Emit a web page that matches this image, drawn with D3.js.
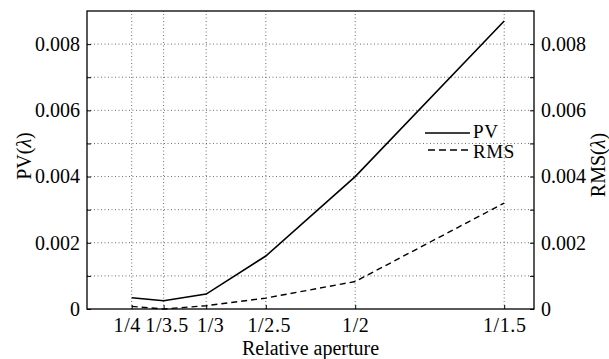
<!DOCTYPE html>
<html lang="en">
<head>
<meta charset="utf-8">
<title>PV / RMS vs relative aperture</title>
<script src="https://cdnjs.cloudflare.com/ajax/libs/d3/7.8.5/d3.min.js"></script>
<style>
  body { margin: 0; background: #fff; }
  svg text { font-family: "Liberation Serif", "Times New Roman", "DejaVu Serif", serif !important; fill: #000; }
  .grid line { stroke: #444; stroke-width: 0.8; stroke-dasharray: 1,2.5; }
</style>
</head>
<body>
<svg id="chart" width="609" height="359"></svg>
<script type="text/javascript">
// data
var apertureVals = [1/4, 1/3.5, 1/3, 1/2.5, 1/2, 1/1.5];
var apertureLabels = ["1/4", "1/3.5", "1/3", "1/2.5", "1/2", "1/1.5"];
var pvVals  = [0.00034, 0.00025, 0.00045, 0.0016, 0.0040, 0.0087];
var rmsVals = [0.00008, 0.00000, 0.00010, 0.00033, 0.00083, 0.0032];
var yTicks = [0, 0.001, 0.002, 0.003, 0.004, 0.005, 0.006, 0.007, 0.008];
var yLabelTicks = [0, 0.002, 0.004, 0.006, 0.008];

var margin = {left: 87, right: 75, top: 11, bottom: 50};
var width = 609, height = 359;
var fs = 20;

var svg = d3.select("#chart");

var x = d3.scaleLinear().domain([0.2, 0.7]).range([margin.left, width - margin.right]);
var y = d3.scaleLinear().domain([0, 0.009]).range([height - margin.bottom, margin.top]);

var fmt = function(d){ return yLabelTicks.indexOf(d) >= 0 ? (d === 0 ? "0" : d3.format(".3f")(d)) : ""; };

//////////////////////////////
// grid
var grid = svg.append("g").attr("class", "grid");
grid.selectAll(".gx").data(apertureVals).enter().append("line")
    .attr("x1", function(d){ return x(d); }).attr("x2", function(d){ return x(d); })
    .attr("y1", y(0)).attr("y2", y(0.009));
grid.selectAll(".gy").data(yTicks.slice(1)).enter().append("line")
    .attr("x1", x(0.2)).attr("x2", x(0.7))
    .attr("y1", function(d){ return y(d); }).attr("y2", function(d){ return y(d); });

//////////////////////////////
// axes (ticks pointing inward like matlab)
var xAxis = d3.axisBottom(x).tickValues(apertureVals)
    .tickFormat(function(d, i){ return apertureLabels[i]; })
    .tickSizeInner(-4).tickSizeOuter(0).tickPadding(9);
var yLeft = d3.axisLeft(y).tickValues(yTicks).tickFormat(fmt).tickSizeInner(-4).tickSizeOuter(0).tickPadding(7);
var yRight = d3.axisRight(y).tickValues(yTicks).tickFormat(fmt).tickSizeInner(-4).tickSizeOuter(0).tickPadding(7);

var gx = svg.append("g").attr("transform", "translate(0," + y(0) + ")").call(xAxis);
var gl = svg.append("g").attr("transform", "translate(" + x(0.2) + ",0)").call(yLeft);
var gr = svg.append("g").attr("transform", "translate(" + x(0.7) + ",0)").call(yRight);

[gx, gl, gr].forEach(function(g){
  g.attr("font-family", null).attr("font-size", null);
  g.select(".domain").remove();
  g.selectAll(".tick line").attr("stroke", "#000").attr("stroke-width", 1);
  g.selectAll(".tick text").attr("font-size", fs);
});
// crowded labels on the left are pushed apart a little, as in the original
gx.selectAll(".tick text")
  .attr("letter-spacing", 0.6)
  .attr("dx", function(d, i){ return [-5, 3, 4, 3, 0, 0][i]; });

// frame
svg.append("rect")
    .attr("x", x(0.2)).attr("y", y(0.009))
    .attr("width", x(0.7) - x(0.2)).attr("height", y(0) - y(0.009))
    .attr("fill", "none").attr("stroke", "#000").attr("stroke-width", 1.3);

//////////////////////////////
// series
var line = function(vals){
  return d3.line().x(function(d, i){ return x(apertureVals[i]); }).y(function(d){ return y(d); })(vals);
};
svg.append("path").attr("d", line(pvVals))
    .attr("fill", "none").attr("stroke", "#000").attr("stroke-width", 1.6);
svg.append("path").attr("d", line(rmsVals))
    .attr("fill", "none").attr("stroke", "#000").attr("stroke-width", 1.4)
    .attr("stroke-dasharray", "6,4");

//////////////////////////////
// legend
var leg = svg.append("g").attr("transform", "translate(425,133)");
leg.append("line").attr("x1", 0).attr("x2", 45).attr("y1", 0).attr("y2", 0)
    .attr("stroke", "#000").attr("stroke-width", 1.6);
leg.append("text").attr("x", 48).attr("y", 5).attr("font-size", 19).attr("letter-spacing", 0.6).text("PV");
leg.append("line").attr("x1", 3).attr("x2", 45).attr("y1", 17).attr("y2", 17)
    .attr("stroke", "#000").attr("stroke-width", 1.4).attr("stroke-dasharray", "7,4");
leg.append("text").attr("x", 48).attr("y", 25).attr("font-size", 19).attr("letter-spacing", 0.6).text("RMS");

//////////////////////////////
// titles
svg.append("text").attr("x", (x(0.2) + x(0.7)) / 2).attr("y", 355)
    .attr("text-anchor", "middle").attr("font-size", fs).text("Relative aperture");

var tl = svg.append("text").attr("transform", "translate(31,156) rotate(-90)")
    .attr("text-anchor", "middle").attr("font-size", fs);
tl.append("tspan").text("PV(");
tl.append("tspan").attr("font-style", "italic").text("λ");
tl.append("tspan").text(")");

var tr = svg.append("text").attr("transform", "translate(605,165) rotate(-90)")
    .attr("text-anchor", "middle").attr("font-size", fs);
tr.append("tspan").text("RMS(");
tr.append("tspan").attr("font-style", "italic").text("λ");
tr.append("tspan").text(")");
</script>
</body>
</html>
